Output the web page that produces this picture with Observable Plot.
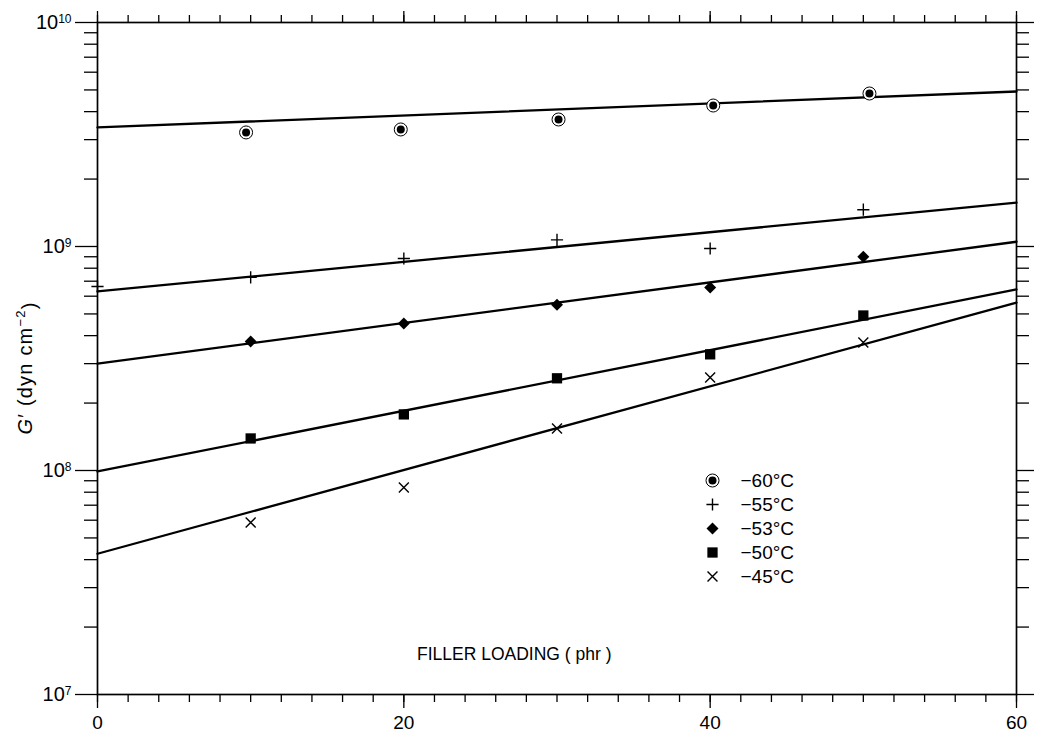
<!DOCTYPE html>
<html>
<head>
<meta charset="utf-8">
<script src="https://cdn.jsdelivr.net/npm/d3@7"></script>
<script src="https://cdn.jsdelivr.net/npm/@observablehq/plot@0.6"></script>
<style>
  html, body { margin: 0; padding: 0; background: #fff; }
  #wrap { position: relative; width: 1041px; height: 739px; }
  #legend { position: absolute; left: 700px; top: 468px; }
</style>
</head>
<body>
<div id="wrap"><div id="chart"></div><div id="legend"></div></div>
<script>
// ---- data ----
const seriesLabels = ["−60°C", "−55°C", "−53°C", "−50°C", "−45°C"];

const x60 = [9.7, 19.8, 30.1, 40.2, 50.4];
const g60 = [3.23e9, 3.33e9, 3.69e9, 4.26e9, 4.82e9];

const x55 = [0, 10, 20, 30, 40, 50];
const g55 = [6.63e8, 7.28e8, 8.84e8, 1.07e9, 9.8e8, 1.46e9];

const x53 = [10, 20, 30, 40, 50];
const g53 = [3.77e8, 4.53e8, 5.5e8, 6.56e8, 9.0e8];

const x50 = [10, 20, 30, 40, 50];
const g50 = [1.39e8, 1.78e8, 2.58e8, 3.30e8, 4.92e8];

const x45 = [10, 20, 30, 40, 50];
const g45 = [5.86e7, 8.4e7, 1.54e8, 2.6e8, 3.73e8];

// fitted straight lines (endpoints at 0 and 60 phr)
const fitX = [0, 60];
const fit60 = [3.40e9, 4.92e9];
const fit55 = [6.3e8, 1.57e9];
const fit53 = [3.0e8, 1.05e9];
const fit50 = [9.9e7, 6.43e8];
const fit45 = [4.25e7, 5.62e8];

// axis ticks
const xMajor = [0, 20, 40, 60];
const xMinor = d3.range(0, 61, 2);
const yMajor = [1e7, 1e8, 1e9, 1e10];
const yMinor = [7, 8, 9].flatMap(n => d3.range(2, 10).map(k => k * Math.pow(10, n)));

const xLabel = "FILLER LOADING ( phr )";

// ---- build ----
const pts = (xs, ys) => xs.map((x, i) => ({x, y: ys[i]}));
const fits = [fit60, fit55, fit53, fit50, fit45];

const font = "'Liberation Sans', Arial, Helvetica, sans-serif";

function symbolMarks(data, kind, opts = {}) {
  const base = Object.assign({x: "x", y: "y"}, opts);
  switch (kind) {
    case "circled":
      return [
        Plot.dot(data, {...base, r: 6.5, stroke: "black", strokeWidth: 1, fill: "white"}),
        Plot.dot(data, {...base, r: 4, fill: "black"})
      ];
    case "plus":
      return [Plot.dot(data, {...base, symbol: "plus", r: 4, stroke: "black", strokeWidth: 1.4})];
    case "diamond":
      return [Plot.dot(data, {...base, symbol: "diamond2", r: 5.4, fill: "black", stroke: "none"})];
    case "square":
      return [Plot.dot(data, {...base, symbol: "square", r: 5.8, fill: "black", stroke: "none"})];
    case "times":
      return [Plot.dot(data, {...base, symbol: "times", r: 4.6, stroke: "black", strokeWidth: 1.4})];
  }
}
const kinds = ["circled", "plus", "diamond", "square", "times"];
const seriesData = [pts(x60, g60), pts(x55, g55), pts(x53, g53), pts(x50, g50), pts(x45, g45)];

const blank = () => "";

const chart = Plot.plot({
  width: 1041,
  height: 739,
  marginLeft: 97,
  marginRight: 25,
  marginTop: 22,
  marginBottom: 45,
  style: {fontFamily: font, fontSize: "17px", color: "black", background: "white"},
  x: {domain: [0, 60]},
  y: {type: "log", domain: [1e7, 1e10]},
  marks: [
    Plot.axisX({anchor: "bottom", ticks: xMinor, tickSize: 8, tickFormat: blank, label: null, strokeWidth: 1.3}),
    Plot.axisX({anchor: "bottom", ticks: xMajor, tickSize: 14, tickPadding: 7, tickFormat: d => String(d), label: null, strokeWidth: 1.3}),
    Plot.axisX({anchor: "top", ticks: xMinor, tickSize: 8, tickFormat: blank, label: null, strokeWidth: 1.3}),
    Plot.axisX({anchor: "top", ticks: xMajor, tickSize: 12, tickFormat: blank, label: null, strokeWidth: 1.3}),
    Plot.axisY({anchor: "left", ticks: yMinor, tickSize: 13, tickFormat: blank, label: null, strokeWidth: 1.3}),
    Plot.axisY({anchor: "left", ticks: yMajor, tickSize: 22, tickPadding: 4, tickFormat: d => "10^" + Math.round(Math.log10(d)), label: null, strokeWidth: 1.3}),
    Plot.axisY({anchor: "right", ticks: yMinor, tickSize: 12, tickFormat: blank, label: null, strokeWidth: 1.3}),
    Plot.axisY({anchor: "right", ticks: yMajor, tickSize: 17, tickFormat: blank, label: null, strokeWidth: 1.3}),
    Plot.frame({stroke: "black", strokeWidth: 1.7}),
    ...fits.map(f => Plot.line(pts(fitX, f), {x: "x", y: "y", stroke: "black", strokeWidth: 2.3})),
    ...seriesData.flatMap((d, i) => symbolMarks(d, kinds[i]))
  ]
});

// tick label sizes
d3.select(chart).selectAll('g[aria-label="x-axis tick label"]').attr("font-size", 19);
d3.select(chart).selectAll('g[aria-label="y-axis tick label"]').attr("font-size", 20);

// superscript exponents on y tick labels
d3.select(chart).selectAll('g[aria-label="y-axis tick label"] text').each(function () {
  const t = this.textContent;
  if (t.startsWith("10^")) {
    const e = t.slice(3);
    this.textContent = "10";
    d3.select(this).append("tspan").attr("dy", "-0.5em").attr("font-size", "0.6em").text(e);
  }
});

// y axis title
const yt = d3.select(chart).append("text")
  .attr("transform", "translate(32,368) rotate(-90)")
  .attr("text-anchor", "middle")
  .attr("font-family", font)
  .attr("font-size", 20)
  .attr("letter-spacing", 1.2)
  .attr("fill", "black");
yt.append("tspan").attr("font-style", "italic").text("G");
yt.append("tspan").text("′ (dyn cm");
yt.append("tspan").attr("dy", "-0.55em").attr("font-size", "0.65em").text("−2");
yt.append("tspan").attr("dy", "0.55em").text(")");

// x axis title (drawn inside the frame)
d3.select(chart).append("text")
  .attr("x", 417).attr("y", 660)
  .attr("text-anchor", "start")
  .attr("font-family", font)
  .attr("font-size", 17.5)
  .attr("fill", "black")
  .text(xLabel);

document.getElementById("chart").appendChild(chart);

// legend
const legendMarks = seriesLabels.flatMap((s, i) =>
  symbolMarks([s], kinds[i], {x: null, y: d => d, frameAnchor: "left", dx: 12})
);
const legend = Plot.plot({
  width: 120,
  height: 120,
  margin: 0,
  style: {fontFamily: font, fontSize: "19px", color: "black", background: "transparent"},
  y: {domain: seriesLabels, range: [12, 108], axis: null, type: "point", padding: 0},
  marks: [
    ...legendMarks,
    Plot.text(seriesLabels, {y: d => d, text: d => d, frameAnchor: "left", dx: 40, textAnchor: "start", fontSize: 19, fill: "black"})
  ]
});
document.getElementById("legend").appendChild(legend);
</script>
</body>
</html>
